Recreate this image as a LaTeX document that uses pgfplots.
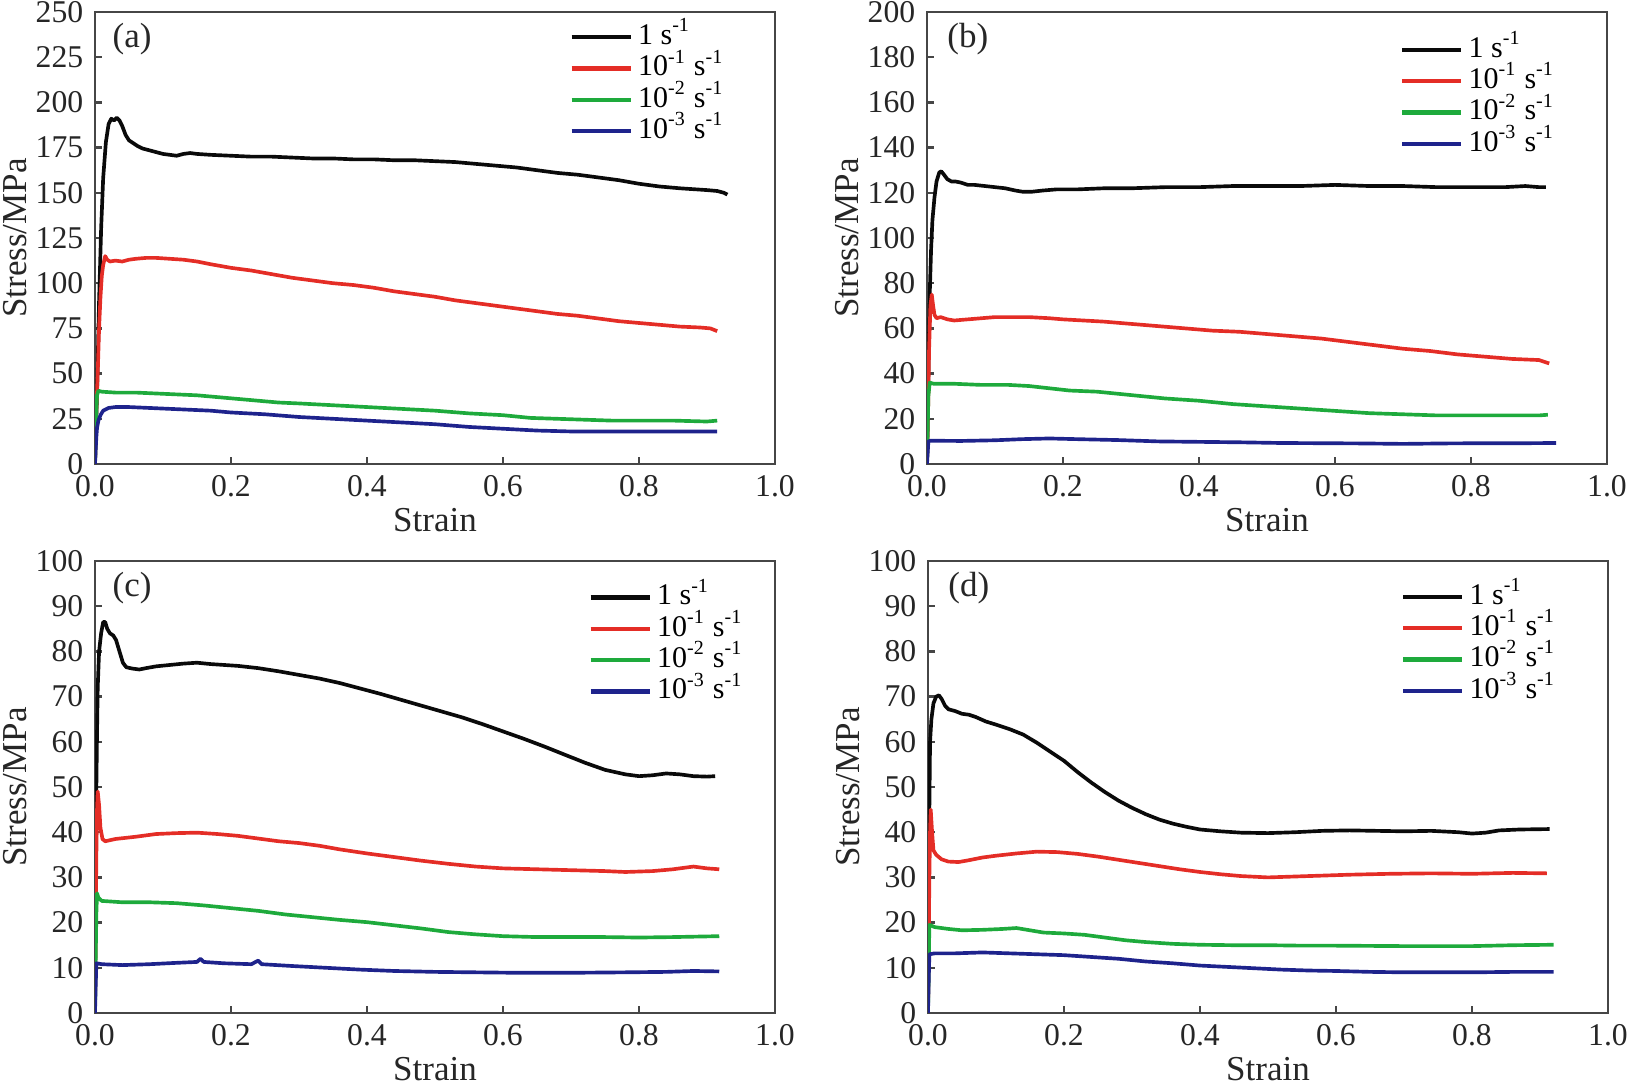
\documentclass[border=0pt]{standalone}
\usepackage{fontspec}
\setmainfont{Liberation Serif}
\usepackage{pgfplots}
\pgfplotsset{compat=1.18}
\definecolor{frame}{RGB}{70,70,70}
\definecolor{cBlack}{RGB}{10,10,10}
\definecolor{cRed}{RGB}{228,45,38}
\definecolor{cGreen}{RGB}{30,170,60}
\definecolor{cBlue}{RGB}{30,35,140}
\pgfplotsset{
  panel/.style={
    width=204pt, height=135.6pt, scale only axis,
    xmin=0, xmax=1, xtick={0,0.2,0.4,0.6,0.8,1.0},
    tick align=inside, xtick pos=bottom, ytick pos=left,
    major tick length=2pt, minor tick num=0,
    axis line style={draw=frame, line width=0.7pt},
    every tick/.style={draw=frame, line width=0.7pt},
    /pgf/number format/assume math mode=true,
    xticklabel style={/pgf/number format/.cd, fixed, fixed zerofill, precision=1},
    yticklabel style={/pgf/number format/.cd, fixed, precision=0},
    tick label style={font=\fontsize{9.5}{11}\selectfont, text=black!85},
    label style={font=\fontsize{10.5}{12}\selectfont, text=black!85},
    xlabel={Strain}, ylabel={Stress/MPa},
    x label style={at={(axis description cs:0.5,-0.124)}, anchor=center},
    y label style={at={(axis description cs:-0.118,0.5)}, anchor=center},
    legend cell align=left,
    legend image code/.code={\draw[#1, line width=1.3pt] (0pt,0pt) -- (17.7pt,0pt);},
    legend style={draw=none, fill=none, anchor=north west,
      font=\fontsize{9}{9.4}\selectfont,
      nodes={inner xsep=1.6pt, inner ysep=0pt, text height=6.9pt, text depth=2.5pt},
      row sep=0pt},
    every axis plot/.append style={line width=1.1pt, line join=round},
  }
}
\newcommand{\leg}{\legend{1 s\textsuperscript{-1}, 10\textsuperscript{-1} s\textsuperscript{-1}, 10\textsuperscript{-2} s\textsuperscript{-1}, 10\textsuperscript{-3} s\textsuperscript{-1}}}
\begin{document}
\begin{tikzpicture}
% ---------------- (a)
\begin{axis}[panel, at={(28.5pt,185.4pt)}, anchor=south west,
  ymin=0, ymax=250, ytick={0,25,...,250},
  legend style={at={(axis description cs:0.682,0.995)}}]
\addplot[cBlack] coordinates {(0,0) (0.003,40) (0.006,90) (0.009,130) (0.012,158) (0.016,178) (0.020,188) (0.024,191) (0.028,190) (0.032,191.5) (0.036,190) (0.040,187) (0.045,182) (0.050,179) (0.056,177.5) (0.062,176) (0.070,174.5) (0.080,173.5) (0.090,172.5) (0.100,171.5) (0.110,171) (0.120,170.5) (0.130,171.5) (0.140,172) (0.150,171.5) (0.170,171) (0.200,170.5) (0.230,170) (0.260,170) (0.290,169.5) (0.320,169) (0.350,169) (0.380,168.5) (0.410,168.5) (0.440,168) (0.470,168) (0.500,167.5) (0.530,167) (0.560,166) (0.590,165) (0.620,164) (0.650,162.5) (0.680,161) (0.710,160) (0.740,158.5) (0.770,157) (0.800,155) (0.830,153.5) (0.860,152.5) (0.880,152) (0.900,151.5) (0.915,151) (0.925,150) (0.930,149)};
\addplot[cRed] coordinates {(0,0) (0.002,30) (0.004,50) (0.006,75) (0.008,92) (0.010,104) (0.012,110) (0.015,115) (0.018,113) (0.022,112) (0.030,112.5) (0.040,112) (0.050,113) (0.060,113.5) (0.075,114) (0.090,114) (0.110,113.5) (0.130,113) (0.150,112) (0.170,110.5) (0.200,108.5) (0.230,107) (0.260,105) (0.290,103) (0.320,101.5) (0.350,100) (0.380,99) (0.410,97.5) (0.440,95.5) (0.470,94) (0.500,92.5) (0.530,90.5) (0.560,89) (0.590,87.5) (0.620,86) (0.650,84.5) (0.680,83) (0.710,82) (0.740,80.5) (0.770,79) (0.800,78) (0.830,77) (0.860,76) (0.890,75.5) (0.905,75) (0.915,73.5)};
\addplot[cGreen] coordinates {(0,0) (0.001,15) (0.002,30) (0.003,38) (0.005,40.5) (0.010,40) (0.030,39.5) (0.060,39.5) (0.090,39) (0.120,38.5) (0.150,38) (0.180,37) (0.210,36) (0.240,35) (0.270,34) (0.300,33.5) (0.350,32.5) (0.400,31.5) (0.450,30.5) (0.500,29.5) (0.550,28) (0.600,27) (0.640,25.5) (0.680,25) (0.720,24.5) (0.760,24) (0.800,24) (0.850,24) (0.900,23.5) (0.915,24)};
\addplot[cBlue] coordinates {(0,0) (0.001,8) (0.002,15) (0.003,20) (0.005,24) (0.008,27) (0.012,29.5) (0.020,31) (0.030,31.5) (0.050,31.5) (0.080,31) (0.110,30.5) (0.140,30) (0.170,29.5) (0.200,28.5) (0.250,27.5) (0.300,26) (0.350,25) (0.400,24) (0.450,23) (0.500,22) (0.550,20.5) (0.600,19.5) (0.650,18.5) (0.700,18) (0.750,18) (0.800,18) (0.850,18) (0.915,18)};
\leg
\node[anchor=west, inner sep=0pt, font=\fontsize{10.5}{12}\selectfont, text=black!85] at (axis description cs:0.025,0.94) {(a)};
\end{axis}
% ---------------- (b)
\begin{axis}[panel, at={(278.1pt,185.4pt)}, anchor=south west,
  ymin=0, ymax=200, ytick={0,20,...,200},
  legend style={at={(axis description cs:0.68,0.967)}}]
\addplot[cBlack] coordinates {(0,0) (0.002,40) (0.004,75) (0.006,95) (0.008,108) (0.011,118) (0.014,125) (0.018,129) (0.021,129.5) (0.025,128) (0.030,126) (0.036,125) (0.042,125) (0.050,124.5) (0.060,123.5) (0.070,123.5) (0.085,123) (0.100,122.5) (0.115,122) (0.130,121) (0.140,120.5) (0.155,120.5) (0.170,121) (0.190,121.5) (0.220,121.5) (0.260,122) (0.300,122) (0.350,122.5) (0.400,122.5) (0.450,123) (0.500,123) (0.550,123) (0.600,123.5) (0.650,123) (0.700,123) (0.750,122.5) (0.800,122.5) (0.850,122.5) (0.880,123) (0.900,122.5) (0.910,122.5)};
\addplot[cRed] coordinates {(0,0) (0.002,30) (0.003,50) (0.005,70) (0.007,75) (0.009,70) (0.011,66) (0.014,64.5) (0.020,65) (0.030,64) (0.040,63.5) (0.060,64) (0.080,64.5) (0.100,65) (0.120,65) (0.150,65) (0.180,64.5) (0.200,64) (0.230,63.5) (0.260,63) (0.300,62) (0.340,61) (0.380,60) (0.420,59) (0.460,58.5) (0.500,57.5) (0.540,56.5) (0.580,55.5) (0.620,54) (0.660,52.5) (0.700,51) (0.740,50) (0.780,48.5) (0.820,47.5) (0.860,46.5) (0.900,46) (0.915,44.5)};
\addplot[cGreen] coordinates {(0,0) (0.001,15) (0.002,30) (0.004,36) (0.010,35.5) (0.040,35.5) (0.080,35) (0.120,35) (0.150,34.5) (0.180,33.5) (0.210,32.5) (0.250,32) (0.300,30.5) (0.350,29) (0.400,28) (0.450,26.5) (0.500,25.5) (0.550,24.5) (0.600,23.5) (0.650,22.5) (0.700,22) (0.750,21.5) (0.800,21.5) (0.850,21.5) (0.900,21.5) (0.913,21.8)};
\addplot[cBlue] coordinates {(0,0) (0.001,5) (0.002,10) (0.005,10.3) (0.050,10.2) (0.100,10.5) (0.140,11) (0.180,11.3) (0.220,11) (0.280,10.6) (0.340,10) (0.400,9.8) (0.460,9.6) (0.520,9.3) (0.580,9.2) (0.640,9.1) (0.700,8.9) (0.760,9.1) (0.820,9.2) (0.880,9.2) (0.925,9.3)};
\leg
\node[anchor=west, inner sep=0pt, font=\fontsize{10.5}{12}\selectfont, text=black!85] at (axis description cs:0.029,0.94) {(b)};
\end{axis}
% ---------------- (c)
\begin{axis}[panel, at={(28.5pt,20.7pt)}, anchor=south west,
  ymin=0, ymax=100, ytick={0,10,...,100},
  legend style={at={(axis description cs:0.71,0.97)}}]
\addplot[cBlack] coordinates {(0,0) (0.001,30) (0.002,50) (0.003,62) (0.004,72) (0.006,80) (0.009,84) (0.012,86.5) (0.015,86.5) (0.018,85) (0.022,84) (0.027,83.5) (0.031,82.5) (0.036,80) (0.041,77.5) (0.046,76.5) (0.055,76.2) (0.065,76) (0.075,76.3) (0.090,76.7) (0.110,77) (0.130,77.3) (0.150,77.5) (0.170,77.2) (0.190,77) (0.210,76.8) (0.240,76.3) (0.270,75.6) (0.300,74.8) (0.330,74) (0.360,73) (0.390,71.8) (0.420,70.6) (0.450,69.3) (0.480,68) (0.510,66.7) (0.540,65.4) (0.570,63.9) (0.600,62.3) (0.630,60.7) (0.660,59) (0.690,57.2) (0.720,55.4) (0.750,53.8) (0.780,52.8) (0.800,52.4) (0.820,52.6) (0.840,53) (0.860,52.8) (0.880,52.4) (0.900,52.3) (0.912,52.4)};
\addplot[cRed] coordinates {(0,0) (0.001,20) (0.002,35) (0.003,45) (0.004,49) (0.006,46) (0.008,41) (0.011,38.5) (0.015,38) (0.030,38.5) (0.060,39) (0.090,39.6) (0.120,39.8) (0.150,39.9) (0.180,39.6) (0.210,39.2) (0.240,38.6) (0.270,38) (0.300,37.6) (0.330,37) (0.360,36.2) (0.400,35.3) (0.440,34.5) (0.480,33.7) (0.520,33) (0.560,32.4) (0.600,32) (0.650,31.8) (0.700,31.6) (0.750,31.4) (0.780,31.2) (0.820,31.4) (0.850,31.8) (0.880,32.4) (0.900,32) (0.918,31.8)};
\addplot[cGreen] coordinates {(0,0) (0.001,12) (0.002,22) (0.003,26.5) (0.005,25.5) (0.010,24.8) (0.040,24.5) (0.080,24.5) (0.120,24.3) (0.160,23.8) (0.200,23.2) (0.240,22.6) (0.280,21.8) (0.320,21.2) (0.360,20.6) (0.400,20.1) (0.440,19.4) (0.480,18.7) (0.520,17.9) (0.560,17.4) (0.600,17.0) (0.650,16.8) (0.700,16.8) (0.750,16.8) (0.800,16.7) (0.850,16.8) (0.918,17.0)};
\addplot[cBlue] coordinates {(0,0) (0.001,6) (0.002,11) (0.010,10.8) (0.040,10.6) (0.080,10.8) (0.120,11.1) (0.150,11.3) (0.155,12.0) (0.160,11.3) (0.190,11.0) (0.230,10.8) (0.240,11.6) (0.245,10.8) (0.290,10.4) (0.340,10.0) (0.390,9.6) (0.440,9.3) (0.500,9.1) (0.560,9.0) (0.620,8.9) (0.700,8.9) (0.780,9.0) (0.840,9.1) (0.880,9.3) (0.918,9.2)};
\leg
\node[anchor=west, inner sep=0pt, font=\fontsize{10.5}{12}\selectfont, text=black!85] at (axis description cs:0.025,0.94) {(c)};
\end{axis}
% ---------------- (d)
\begin{axis}[panel, at={(278.4pt,20.7pt)}, anchor=south west,
  ymin=0, ymax=100, ytick={0,10,...,100},
  legend style={at={(axis description cs:0.68,0.972)}}]
\addplot[cBlack] coordinates {(0,0) (0.001,25) (0.002,45) (0.003,60) (0.005,65) (0.008,68.5) (0.012,70) (0.016,70.3) (0.020,69.5) (0.025,68) (0.030,67.2) (0.040,66.8) (0.050,66.2) (0.060,66) (0.070,65.5) (0.085,64.5) (0.100,63.8) (0.120,62.8) (0.140,61.6) (0.160,59.8) (0.180,57.8) (0.200,55.8) (0.220,53.3) (0.240,51) (0.260,48.9) (0.280,47) (0.300,45.4) (0.320,44) (0.340,42.8) (0.360,41.9) (0.380,41.2) (0.400,40.6) (0.430,40.2) (0.460,39.9) (0.500,39.8) (0.540,40) (0.580,40.3) (0.620,40.4) (0.660,40.3) (0.700,40.2) (0.740,40.3) (0.780,40) (0.800,39.7) (0.820,39.9) (0.840,40.4) (0.870,40.6) (0.914,40.7)};
\addplot[cRed] coordinates {(0,0) (0.001,15) (0.002,30) (0.003,40) (0.004,45) (0.006,40) (0.008,36) (0.012,35) (0.020,34) (0.030,33.5) (0.045,33.4) (0.060,33.8) (0.080,34.4) (0.100,34.8) (0.130,35.3) (0.160,35.7) (0.190,35.6) (0.220,35.2) (0.250,34.6) (0.280,33.9) (0.310,33.2) (0.340,32.5) (0.370,31.8) (0.400,31.2) (0.430,30.7) (0.460,30.3) (0.500,30) (0.540,30.2) (0.580,30.4) (0.620,30.6) (0.680,30.8) (0.740,30.9) (0.800,30.8) (0.860,31) (0.910,30.9)};
\addplot[cGreen] coordinates {(0,0) (0.001,10) (0.002,19.5) (0.010,19) (0.030,18.6) (0.050,18.3) (0.080,18.4) (0.110,18.6) (0.130,18.8) (0.150,18.3) (0.170,17.8) (0.200,17.6) (0.230,17.3) (0.260,16.7) (0.290,16.1) (0.320,15.7) (0.360,15.3) (0.400,15.1) (0.450,15.0) (0.500,15.0) (0.550,14.9) (0.600,14.9) (0.700,14.8) (0.800,14.8) (0.860,15.0) (0.920,15.1)};
\addplot[cBlue] coordinates {(0,0) (0.001,7) (0.002,13) (0.010,13.2) (0.040,13.2) (0.080,13.4) (0.120,13.2) (0.160,13.0) (0.200,12.8) (0.240,12.4) (0.280,12) (0.320,11.4) (0.360,11) (0.400,10.5) (0.440,10.2) (0.480,9.9) (0.520,9.6) (0.560,9.4) (0.600,9.3) (0.650,9.1) (0.700,9.0) (0.800,9.0) (0.860,9.1) (0.920,9.1)};
\leg
\node[anchor=west, inner sep=0pt, font=\fontsize{10.5}{12}\selectfont, text=black!85] at (axis description cs:0.029,0.94) {(d)};
\end{axis}
\pgfresetboundingbox
\useasboundingbox (0,0) rectangle (489.6pt,324.6pt);
\end{tikzpicture}
\end{document}
